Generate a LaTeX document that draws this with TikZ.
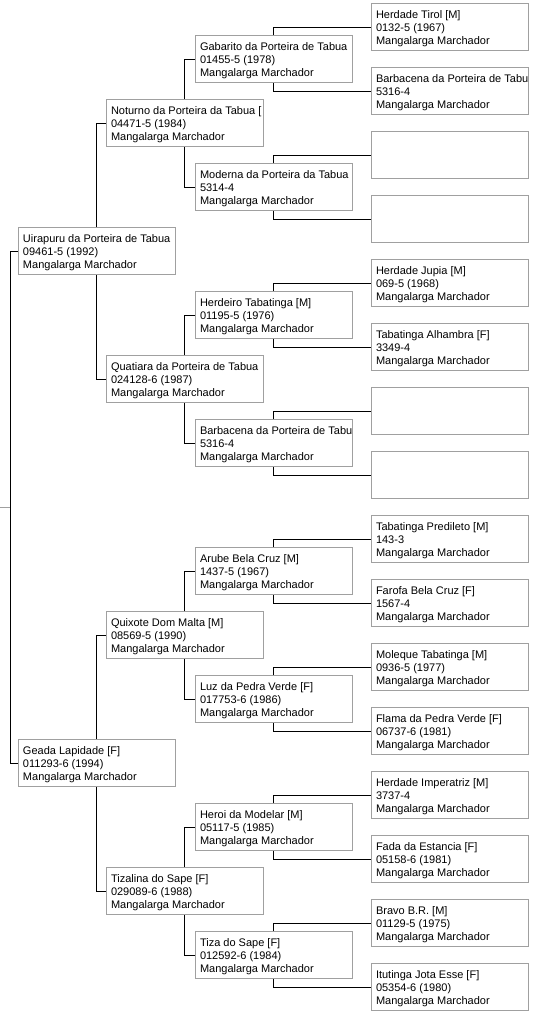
\documentclass[tikz,border=0pt]{standalone}
\usepackage{fontspec}
\setmainfont{Liberation Sans}
\usepackage{xcolor}
\usetikzlibrary{positioning}

\definecolor{boxgray}{HTML}{A0A0A0}
\newcommand{\horse}[3]{\rule{0pt}{10.5pt}\makebox[147pt][l]{#1}\\#2\\#3}

\begin{document}
\begin{tikzpicture}[x=1pt, y=1pt, on grid,
  horse/.style={rectangle, draw=boxgray, line width=1pt, minimum width=157pt,
    minimum height=47pt, inner xsep=5pt, inner ysep=0pt, align=left,
    font=\fontsize{11pt}{13pt}\selectfont},
  link/.style={draw=black, line width=1pt}]

  \useasboundingbox (0,0) rectangle (541,-1015);

  % first generation
  \node[horse] (Uira) at (96.5,-251) {\horse{Uirapuru da Porteira de Tabua}{09461-5 (1992)}{Mangalarga Marchador}};
  \node[horse] (Geada) at (96.5,-763) {\horse{Geada Lapidade [F]}{011293-6 (1994)}{Mangalarga Marchador}};

  % second generation
  \node[horse] (Not) [above right=128pt and 88pt of Uira] {\horse{Noturno da Porteira da Tabua [}{04471-5 (1984)}{Mangalarga Marchador}};
  \node[horse] (Quat) [below right=128pt and 88pt of Uira] {\horse{Quatiara da Porteira de Tabua}{024128-6 (1987)}{Mangalarga Marchador}};
  \node[horse] (Quix) [above right=128pt and 88pt of Geada] {\horse{Quixote Dom Malta [M]}{08569-5 (1990)}{Mangalarga Marchador}};
  \node[horse] (Tizal) [below right=128pt and 88pt of Geada] {\horse{Tizalina do Sape [F]}{029089-6 (1988)}{Mangalarga Marchador}};

  % third generation
  \node[horse] (Gab) [above right=64pt and 89pt of Not] {\horse{Gabarito da Porteira de Tabua}{01455-5 (1978)}{Mangalarga Marchador}};
  \node[horse] (Mod) [below right=64pt and 89pt of Not] {\horse{Moderna da Porteira da Tabua}{5314-4}{Mangalarga Marchador}};
  \node[horse] (Herd) [above right=64pt and 89pt of Quat] {\horse{Herdeiro Tabatinga [M]}{01195-5 (1976)}{Mangalarga Marchador}};
  \node[horse] (Barb2) [below right=64pt and 89pt of Quat] {\horse{Barbacena da Porteira de Tabu}{5316-4}{Mangalarga Marchador}};
  \node[horse] (Arube) [above right=64pt and 89pt of Quix] {\horse{Arube Bela Cruz [M]}{1437-5 (1967)}{Mangalarga Marchador}};
  \node[horse] (Luz) [below right=64pt and 89pt of Quix] {\horse{Luz da Pedra Verde [F]}{017753-6 (1986)}{Mangalarga Marchador}};
  \node[horse] (Heroi) [above right=64pt and 89pt of Tizal] {\horse{Heroi da Modelar [M]}{05117-5 (1985)}{Mangalarga Marchador}};
  \node[horse] (Tiza) [below right=64pt and 89pt of Tizal] {\horse{Tiza do Sape [F]}{012592-6 (1984)}{Mangalarga Marchador}};

  % fourth generation
  \node[horse] (Tirol) [above right=32pt and 176pt of Gab] {\horse{Herdade Tirol [M]}{0132-5 (1967)}{Mangalarga Marchador}};
  \node[horse] (Barb1) [below right=32pt and 176pt of Gab] {\horse{Barbacena da Porteira de Tabu}{5316-4}{Mangalarga Marchador}};
  \node[horse] (E1) [above right=32pt and 176pt of Mod] {};
  \node[horse] (E2) [below right=32pt and 176pt of Mod] {};
  \node[horse] (Jupia) [above right=32pt and 176pt of Herd] {\horse{Herdade Jupia [M]}{069-5 (1968)}{Mangalarga Marchador}};
  \node[horse] (Alh) [below right=32pt and 176pt of Herd] {\horse{Tabatinga Alhambra [F]}{3349-4}{Mangalarga Marchador}};
  \node[horse] (E3) [above right=32pt and 176pt of Barb2] {};
  \node[horse] (E4) [below right=32pt and 176pt of Barb2] {};
  \node[horse] (Pred) [above right=32pt and 176pt of Arube] {\horse{Tabatinga Predileto [M]}{143-3}{Mangalarga Marchador}};
  \node[horse] (Far) [below right=32pt and 176pt of Arube] {\horse{Farofa Bela Cruz [F]}{1567-4}{Mangalarga Marchador}};
  \node[horse] (Mol) [above right=32pt and 176pt of Luz] {\horse{Moleque Tabatinga [M]}{0936-5 (1977)}{Mangalarga Marchador}};
  \node[horse] (Flama) [below right=32pt and 176pt of Luz] {\horse{Flama da Pedra Verde [F]}{06737-6 (1981)}{Mangalarga Marchador}};
  \node[horse] (Imp) [above right=32pt and 176pt of Heroi] {\horse{Herdade Imperatriz [M]}{3737-4}{Mangalarga Marchador}};
  \node[horse] (Fada) [below right=32pt and 176pt of Heroi] {\horse{Fada da Estancia [F]}{05158-6 (1981)}{Mangalarga Marchador}};
  \node[horse] (Bravo) [above right=32pt and 176pt of Tiza] {\horse{Bravo B.R. [M]}{01129-5 (1975)}{Mangalarga Marchador}};
  \node[horse] (Itu) [below right=32pt and 176pt of Tiza] {\horse{Itutinga Jota Esse [F]}{05354-6 (1980)}{Mangalarga Marchador}};

  % root, off the left edge
  \coordinate (Root) at (10,-507);
  \coordinate (Edge) at (0,-507);
  \draw[boxgray, line width=1pt] (Edge) -- (Root);
  \draw[link] (Root) |- (Uira.west);
  \draw[link] (Root) |- (Geada.west);

  % sires go up, dams go down
  \foreach \p/\c in {Uira/Not, Geada/Quix, Not/Gab, Quat/Herd, Quix/Arube, Tizal/Heroi,
      Gab/Tirol, Mod/E1, Herd/Jupia, Barb2/E3, Arube/Pred, Luz/Mol, Heroi/Imp, Tiza/Bravo}
    \draw[link] (\p.north) |- (\c.west);
  \foreach \p/\c in {Uira/Quat, Geada/Tizal, Not/Mod, Quat/Barb2, Quix/Luz, Tizal/Tiza,
      Gab/Barb1, Mod/E2, Herd/Alh, Barb2/E4, Arube/Far, Luz/Flama, Heroi/Fada, Tiza/Itu}
    \draw[link] (\p.south) |- (\c.west);

\end{tikzpicture}
\end{document}
